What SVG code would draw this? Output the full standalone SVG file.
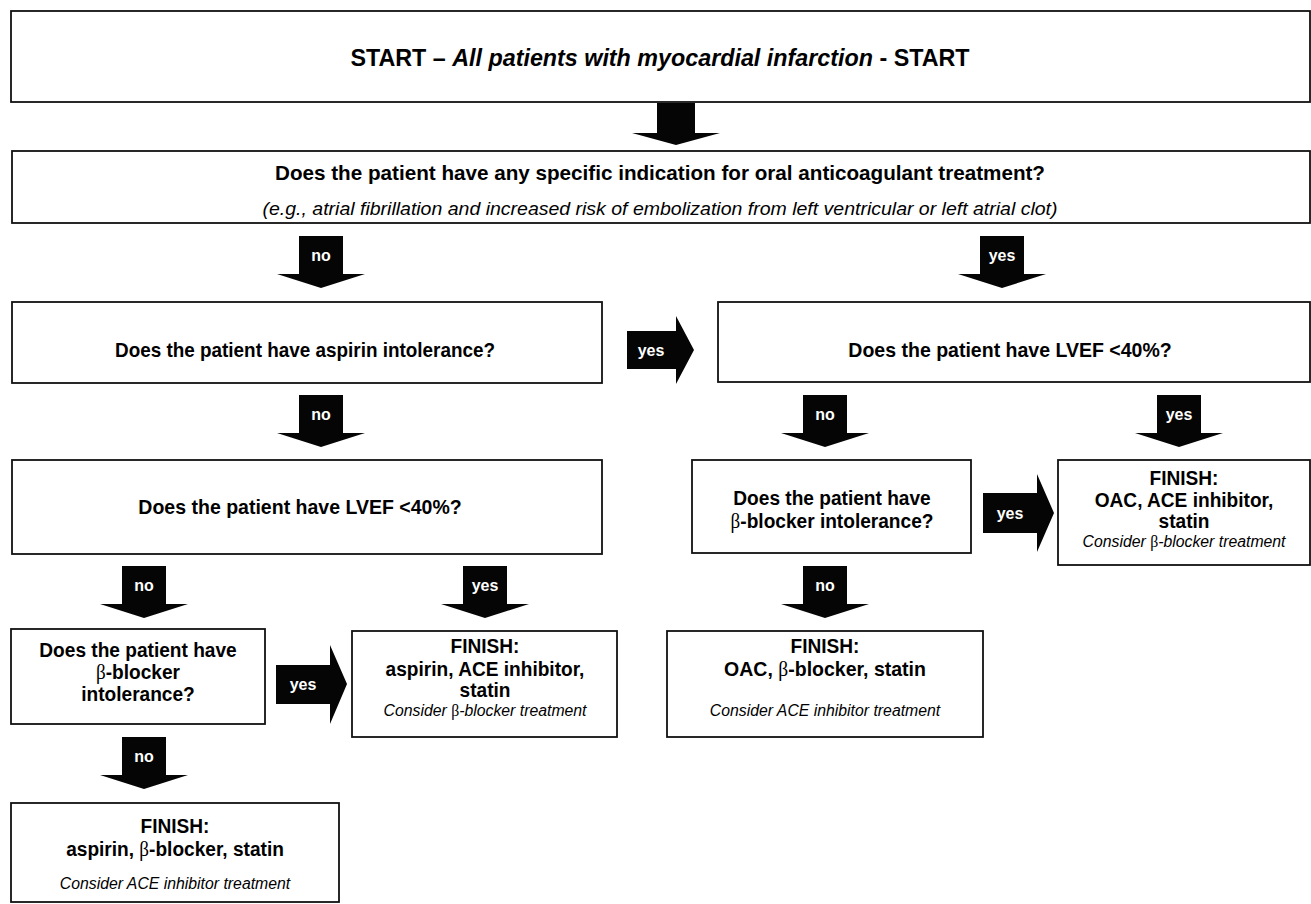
<svg xmlns="http://www.w3.org/2000/svg" width="1311" height="904" viewBox="0 0 1311 904">
<style>
.box{fill:#fff;stroke:#111;stroke-width:1.8}
.q{font-family:"Liberation Sans",Arial,sans-serif;font-weight:bold;font-size:21px;fill:#000;text-anchor:middle}
.t{font-family:"Liberation Sans",Arial,sans-serif;font-weight:bold;font-size:23.3px;fill:#000;text-anchor:middle}
.q2{font-family:"Liberation Sans",Arial,sans-serif;font-weight:bold;font-size:20.5px;fill:#000;text-anchor:middle}
.it{font-family:"Liberation Sans",Arial,sans-serif;font-style:italic;font-size:17px;fill:#000;text-anchor:middle}
.it2{font-family:"Liberation Sans",Arial,sans-serif;font-style:italic;font-size:18.5px;fill:#000;text-anchor:middle}
.lbl{font-family:"Liberation Sans",Arial,sans-serif;font-weight:bold;font-size:16px;fill:#fff;text-anchor:middle}
.arr{fill:#050505}
.b{font-family:"Liberation Serif","DejaVu Serif",serif;font-weight:normal;font-style:normal}
</style>
<rect width="1311" height="904" fill="#fff"/>

<g id="start">
<rect class="box" x="11" y="11" width="1299" height="91"/>
<text class="t" x="660" y="66">START – <tspan font-style="italic">All patients with myocardial infarction</tspan> - START</text>
</g>

<g id="q-oac">
<rect class="box" x="12" y="151" width="1298" height="72"/>
<text class="q2" x="660" y="180" textLength="770" lengthAdjust="spacingAndGlyphs">Does the patient have any specific indication for oral anticoagulant treatment?</text>
<text class="it2" x="660" y="215" textLength="795" lengthAdjust="spacingAndGlyphs">(e.g., atrial fibrillation and increased risk of embolization from left ventricular or left atrial clot)</text>
</g>

<g id="q-aspirin">
<rect class="box" x="12" y="302" width="590" height="81"/>
<text class="q" transform="translate(305 357) scale(0.9 1)">Does the patient have aspirin intolerance?</text>
</g>

<g id="q-lvef-right">
<rect class="box" x="718" y="302" width="592" height="80"/>
<text class="q" transform="translate(1010 357) scale(0.93 1)">Does the patient have LVEF &lt;40%?</text>
</g>

<g id="q-lvef-left">
<rect class="box" x="12" y="460" width="590" height="94"/>
<text class="q" transform="translate(300 514) scale(0.93 1)">Does the patient have LVEF &lt;40%?</text>
</g>

<g id="q-bb-right">
<rect class="box" x="692" y="460" width="279" height="93"/>
<text class="q" transform="translate(832 505) scale(0.91 1)">Does the patient have</text>
<text class="q" transform="translate(832 528) scale(0.91 1)"><tspan class="b">β</tspan>-blocker intolerance?</text>
</g>

<g id="finish-oac-ace">
<rect class="box" x="1058" y="460" width="252" height="105"/>
<text class="q" transform="translate(1184 485) scale(0.91 1)">FINISH:</text>
<text class="q" transform="translate(1184 507) scale(0.91 1)">OAC, ACE inhibitor,</text>
<text class="q" transform="translate(1184 528) scale(0.91 1)">statin</text>
<text class="it" transform="translate(1184 547) scale(0.93 1)">Consider <tspan class="b">β</tspan>-blocker treatment</text>
</g>

<g id="q-bb-left">
<rect class="box" x="11" y="629" width="254" height="95"/>
<text class="q" transform="translate(138 657) scale(0.91 1)">Does the patient have</text>
<text class="q" transform="translate(138 679) scale(0.91 1)"><tspan class="b">β</tspan>-blocker</text>
<text class="q" transform="translate(138 701) scale(0.91 1)">intolerance?</text>
</g>

<g id="finish-aspirin-ace">
<rect class="box" x="352" y="631" width="265" height="106"/>
<text class="q" transform="translate(485 653) scale(0.91 1)">FINISH:</text>
<text class="q" transform="translate(485 676) scale(0.91 1)">aspirin, ACE inhibitor,</text>
<text class="q" transform="translate(485 697) scale(0.91 1)">statin</text>
<text class="it" transform="translate(485 716) scale(0.93 1)">Consider <tspan class="b">β</tspan>-blocker treatment</text>
</g>

<g id="finish-oac-bb">
<rect class="box" x="667" y="631" width="316" height="106"/>
<text class="q" transform="translate(825 653) scale(0.91 1)">FINISH:</text>
<text class="q" transform="translate(825 676) scale(0.93 1)">OAC, <tspan class="b">β</tspan>-blocker, statin</text>
<text class="it" transform="translate(825 716) scale(0.93 1)">Consider ACE inhibitor treatment</text>
</g>

<g id="finish-aspirin-bb">
<rect class="box" x="11" y="803" width="328" height="99"/>
<text class="q" transform="translate(175 833) scale(0.91 1)">FINISH:</text>
<text class="q" transform="translate(175 856) scale(0.91 1)">aspirin, <tspan class="b">β</tspan>-blocker, statin</text>
<text class="it" transform="translate(175 889) scale(0.93 1)">Consider ACE inhibitor treatment</text>
</g>

<g id="connectors">
<polygon class="arr" points="657,103 695,103 695,133 720,133 676,145 632,133 657,133"/>
<polygon class="arr" points="299,236 343,236 343,274 365,274 321,288 277,274 299,274"/>
<polygon class="arr" points="980,236 1024,236 1024,274 1046,274 1002,288 958,274 980,274"/>
<polygon class="arr" points="627,331 676,331 676,316 694,350 676,384 676,369 627,369"/>
<polygon class="arr" points="299,395 343,395 343,433 365,433 321,447 277,433 299,433"/>
<polygon class="arr" points="803,395 847,395 847,433 869,433 825,447 781,433 803,433"/>
<polygon class="arr" points="1157,395 1201,395 1201,433 1223,433 1179,447 1135,433 1157,433"/>
<polygon class="arr" points="983,493 1037,493 1037,474 1054,513 1037,552 1037,533 983,533"/>
<polygon class="arr" points="122,566 166,566 166,604 188,604 144,618 100,604 122,604"/>
<polygon class="arr" points="463,566 507,566 507,604 529,604 485,618 441,604 463,604"/>
<polygon class="arr" points="803,566 847,566 847,604 869,604 825,618 781,604 803,604"/>
<polygon class="arr" points="276,665 330,665 330,645 347,684 330,724 330,704 276,704"/>
<polygon class="arr" points="122,737 166,737 166,775 188,775 144,789 100,775 122,775"/>
<text class="lbl" x="321" y="261">no</text>
<text class="lbl" x="1002" y="261">yes</text>
<text class="lbl" x="651" y="356">yes</text>
<text class="lbl" x="321" y="420">no</text>
<text class="lbl" x="825" y="420">no</text>
<text class="lbl" x="1179" y="420">yes</text>
<text class="lbl" x="1010" y="519">yes</text>
<text class="lbl" x="144" y="591">no</text>
<text class="lbl" x="485" y="591">yes</text>
<text class="lbl" x="825" y="591">no</text>
<text class="lbl" x="303" y="690">yes</text>
<text class="lbl" x="144" y="762">no</text>
</g>
</svg>
